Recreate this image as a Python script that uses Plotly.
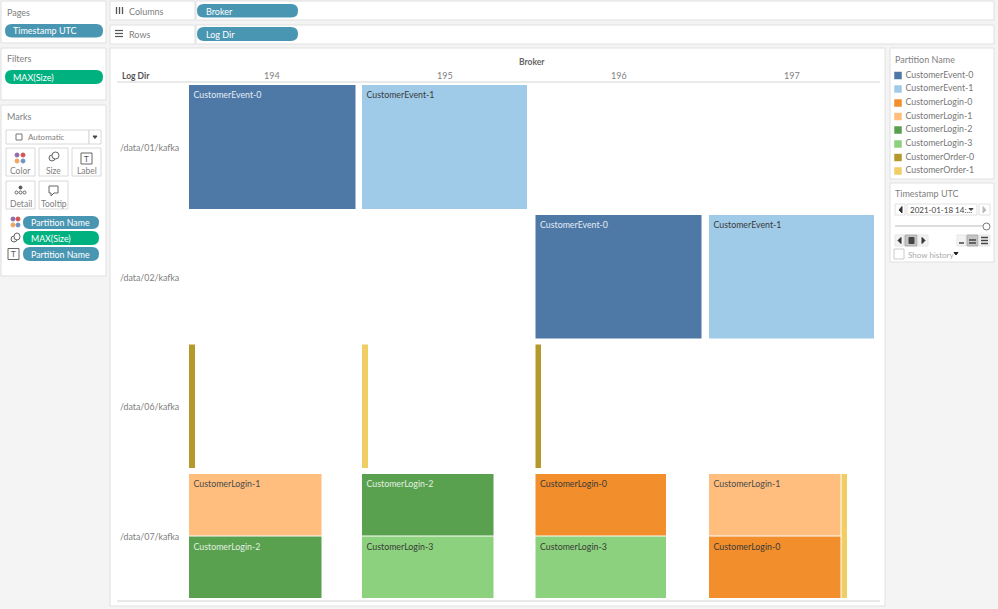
import pandas as pd
import plotly.graph_objects as go

# 分区矩形（坐标单位与截图像素一致）
df = pd.DataFrame(
    [
        ['194', '/data/01/kafka', 'CustomerEvent-0', 189, 355.5, 85, 209],
        ['195', '/data/01/kafka', 'CustomerEvent-1', 362, 527, 85, 209],
        ['196', '/data/02/kafka', 'CustomerEvent-0', 535.5, 701.5, 215, 338.5],
        ['197', '/data/02/kafka', 'CustomerEvent-1', 709, 874, 215, 338.5],
        ['194', '/data/06/kafka', 'CustomerOrder-0', 189, 195, 344.5, 468],
        ['195', '/data/06/kafka', 'CustomerOrder-1', 362, 368, 344.5, 468],
        ['196', '/data/06/kafka', 'CustomerOrder-0', 535.5, 541, 344.5, 468],
        ['194', '/data/07/kafka', 'CustomerLogin-1', 189, 321.5, 474, 535.5],
        ['194', '/data/07/kafka', 'CustomerLogin-2', 189, 321.5, 536.5, 598],
        ['195', '/data/07/kafka', 'CustomerLogin-2', 362, 493.5, 474, 535.5],
        ['195', '/data/07/kafka', 'CustomerLogin-3', 362, 493.5, 536.5, 598],
        ['196', '/data/07/kafka', 'CustomerLogin-0', 535.5, 666, 474, 535.5],
        ['196', '/data/07/kafka', 'CustomerLogin-3', 535.5, 666, 536.5, 598],
        ['197', '/data/07/kafka', 'CustomerLogin-1', 709, 840.5, 474, 535.5],
        ['197', '/data/07/kafka', 'CustomerLogin-0', 709, 840.5, 536.5, 598],
        ['197', '/data/07/kafka', 'CustomerOrder-1', 841.5, 847, 474, 598],
    ],
    columns=['broker', 'log_dir', 'partition', 'x0', 'x1', 'y0', 'y1'],
)

# 颜色和标签颜色
colors = {
    'CustomerEvent-0': '#4e79a7', 'CustomerEvent-1': '#a0cbe8',
    'CustomerLogin-0': '#f28e2b', 'CustomerLogin-1': '#ffbe7d',
    'CustomerLogin-2': '#59a14f', 'CustomerLogin-3': '#8cd17d',
    'CustomerOrder-0': '#b6992d', 'CustomerOrder-1': '#f1ce63',
}
label_colors = {
    'CustomerEvent-0': '#e4ebf3', 'CustomerEvent-1': '#3a3a3a',
    'CustomerLogin-0': '#3a3a3a', 'CustomerLogin-1': '#4a4a4a',
    'CustomerLogin-2': '#e4f0e2', 'CustomerLogin-3': '#3a3a3a',
}
font_name = 'Lato'
gray = '#808080'
dark = '#444444'

# 按分区分组画矩形
fig = go.Figure()
for name, group in df.groupby('partition'):
    fig.add_trace(go.Bar(
        x=(group['x0'] + group['x1']) / 2,
        y=group['y1'] - group['y0'],
        base=group['y0'],
        width=group['x1'] - group['x0'],
        marker=dict(color=colors[name], line=dict(width=0)),
        name=name,
        showlegend=False,
    ))

# 矩形上的标签
labeled = df[df['partition'].isin(label_colors)]
fig.add_trace(go.Scatter(
    x=labeled['x0'] + 4.5,
    y=labeled['y0'] + 11,
    mode='text',
    text=labeled['partition'],
    textposition='middle right',
    textfont=dict(family=font_name, size=8.8, color=[label_colors[p] for p in labeled['partition']]),
    showlegend=False,
))

# 图例色块和文字
legend_names = list(colors.keys())
legend_y = [75.5, 89, 103, 116.5, 130, 144, 157.5, 171]
fig.add_trace(go.Scatter(
    x=[898] * 8,
    y=legend_y,
    mode='markers',
    marker=dict(symbol='square', size=7.5, color=[colors[n] for n in legend_names]),
    showlegend=False,
))
fig.add_trace(go.Scatter(
    x=[905.5] * 8,
    y=legend_y,
    mode='text',
    text=legend_names,
    textposition='middle right',
    textfont=dict(family=font_name, size=8.8, color='#777777'),
    showlegend=False,
))

# 面板和按钮：x0, x1, y0, y1, 填充, 边框
boxes = [
    (1, 106, 1, 43, 'white', '#e0e0e0'),
    (1, 106, 48, 100, 'white', '#e0e0e0'),
    (1, 106, 105, 276, 'white', '#e0e0e0'),
    (110, 195, 1, 20, 'white', '#e0e0e0'),
    (196, 994, 1, 20, 'white', '#e0e0e0'),
    (110, 195, 25, 44, 'white', '#e0e0e0'),
    (196, 994, 25, 44, 'white', '#e0e0e0'),
    (110, 885, 48, 606, 'white', '#e0e0e0'),
    (890, 994, 48, 179, 'white', '#e0e0e0'),
    (890, 994, 183, 262, 'white', '#e0e0e0'),
    (6, 89, 130, 144, 'white', '#d8d8d8'),
    (89, 101, 130, 144, 'white', '#d8d8d8'),
    (6, 35, 148, 176, 'white', '#d8d8d8'),
    (39, 68, 148, 176, 'white', '#d8d8d8'),
    (72, 101, 148, 176, 'white', '#d8d8d8'),
    (6, 35, 181, 209, 'white', '#d8d8d8'),
    (39, 68, 181, 209, 'white', '#d8d8d8'),
    (16, 22, 134, 140, 'white', '#777777'),
    (895, 905, 204, 215, 'white', '#e0e0e0'),
    (907, 977, 204, 215, 'white', '#e0e0e0'),
    (979, 990, 204, 215, 'white', '#e0e0e0'),
    (895, 904, 235, 246, '#f2f2f2', '#e6e6e6'),
    (905, 917, 235, 246, '#c4c4c4', '#aaaaaa'),
    (918, 928, 235, 246, '#f2f2f2', '#e6e6e6'),
    (957, 966, 235, 246, '#f2f2f2', '#e6e6e6'),
    (967, 978, 235, 246, '#c4c4c4', '#aaaaaa'),
    (979, 990, 235, 246, '#f2f2f2', '#e6e6e6'),
    (894, 904, 249, 259, 'white', '#cccccc'),
    (81, 92, 153, 164, 'white', '#666666'),
]
shapes = []
for x0, x1, y0, y1, fill, edge in boxes:
    shapes.append(dict(type='rect', x0=x0, x1=x1, y0=y0, y1=y1, fillcolor=fill,
                       line=dict(color=edge, width=1), layer='below'))

# 胶囊
pills = [
    (5, 103, 24, 37.5, '#4996b2'),
    (5, 103, 70, 84, '#00b180'),
    (23, 99, 216, 229, '#4996b2'),
    (23, 99, 231, 245, '#00b180'),
    (23, 99, 247, 261, '#4996b2'),
    (197, 298, 4, 17.5, '#4996b2'),
    (197, 298, 27, 41, '#4996b2'),
]
for x0, x1, y0, y1, fill in pills:
    r = (y1 - y0) / 2
    path = (f'M {x0 + r} {y0} L {x1 - r} {y0} Q {x1} {y0} {x1} {y0 + r} Q {x1} {y1} {x1 - r} {y1} '
            f'L {x0 + r} {y1} Q {x0} {y1} {x0} {y0 + r} Q {x0} {y0} {x0 + r} {y0} Z')
    shapes.append(dict(type='path', path=path, fillcolor=fill, line=dict(width=0), layer='below'))

# 线条
lines = [
    (117, 880, 82, 82, '#d4d4d4', 1),
    (117, 880, 601, 601, '#d4d4d4', 1),
    (895, 983, 226, 226, '#dddddd', 2),
    (116.5, 116.5, 7, 14, '#555555', 1.3),
    (119.5, 119.5, 7, 14, '#555555', 1.3),
    (122.5, 122.5, 7, 14, '#555555', 1.3),
    (115, 123, 30.5, 30.5, '#555555', 1.2),
    (115, 123, 33.5, 33.5, '#555555', 1.2),
    (115, 123, 36.5, 36.5, '#555555', 1.2),
    (959, 964, 243, 243, '#444444', 1.5),
    (969, 976, 240, 240, '#444444', 1.5),
    (969, 976, 243, 243, '#444444', 1.5),
    (981, 988, 237.5, 237.5, '#444444', 1.5),
    (981, 988, 240.5, 240.5, '#444444', 1.5),
    (981, 988, 243.5, 243.5, '#444444', 1.5),
]
for x0, x1, y0, y1, color, width in lines:
    shapes.append(dict(type='line', x0=x0, x1=x1, y0=y0, y1=y1, line=dict(color=color, width=width), layer='below'))

# 小图标里的圆和三角
circles = [
    (15, 153, 19, 157, '#8f6ca8', None), (21, 153, 25, 157, '#d6544f', None),
    (15, 159, 19, 163, '#f2a45c', None), (21, 159, 25, 163, '#6f93c4', None),
    (49, 155, 55, 161, '#f2f2f2', '#666666'), (52, 152, 59, 159, 'white', '#666666'),
    (19, 186, 22, 189, '#555555', None),
    (15, 191, 18, 194, 'white', '#666666'), (19, 191, 22, 194, 'white', '#666666'), (23, 191, 26, 194, 'white', '#666666'),
    (11, 217, 15, 221, '#8f6ca8', None), (16, 217, 20, 221, '#d6544f', None),
    (11, 223, 15, 227, '#f2a45c', None), (16, 223, 20, 227, '#6f93c4', None),
    (11, 236, 17, 242, '#f2f2f2', '#666666'), (14, 233, 20, 240, 'white', '#666666'),
    (983, 223, 990, 230, 'white', '#777777'),
]
for x0, y0, x1, y1, fill, edge in circles:
    shapes.append(dict(type='circle', x0=x0, x1=x1, y0=y0, y1=y1, fillcolor=fill,
                       line=dict(color=edge or fill, width=1), layer='below'))
paths = [
    ('M 49 186 L 58 186 L 58 193 L 54 193 L 51 196 L 51 193 L 49 193 Z', 'white', '#666666'),
    ('M 93 136 L 97 136 L 95 138.5 Z', '#444444', '#444444'),
    ('M 899 210 L 902 206.5 L 902 213 Z', '#333333', '#333333'),
    ('M 986 210 L 983 206.5 L 983 213 Z', '#bbbbbb', '#bbbbbb'),
    ('M 969 208.5 L 973 208.5 L 971 210.5 Z', '#444444', '#444444'),
    ('M 898 240.5 L 901 237.5 L 901 243.5 Z', '#333333', '#333333'),
    ('M 909 237.5 L 914 237.5 L 914 243.5 L 909 243.5 Z', '#444444', '#444444'),
    ('M 925 240.5 L 922 237.5 L 922 243.5 Z', '#333333', '#333333'),
    ('M 954 252.5 L 958 252.5 L 956 255 Z', '#222222', '#222222'),
]
for path, fill, edge in paths:
    shapes.append(dict(type='path', path=path, fillcolor=fill, line=dict(color=edge, width=1), layer='below'))

# 文字：x, y, 内容, 字号, 颜色, 对齐
texts = [
    (6, 12, 'Pages', 9, gray, 'left'),
    (6, 58, 'Filters', 9, gray, 'left'),
    (6, 116, 'Marks', 9, gray, 'left'),
    (12, 30.5, 'Timestamp UTC', 9, 'white', 'left'),
    (12, 77, 'MAX(Size)', 9, 'white', 'left'),
    (30, 222.5, 'Partition Name', 8.8, 'white', 'left'),
    (30, 238, 'MAX(Size)', 8.8, 'white', 'left'),
    (30, 254, 'Partition Name', 8.8, 'white', 'left'),
    (27, 137, 'Automatic', 8, gray, 'left'),
    (20.5, 170.5, 'Color', 8.5, gray, 'center'),
    (53.5, 170.5, 'Size', 8.5, gray, 'center'),
    (86.5, 170.5, 'Label', 8.5, gray, 'center'),
    (20.5, 203.5, 'Detail', 8.5, gray, 'center'),
    (53.5, 203.5, 'Tooltip', 8.5, gray, 'center'),
    (128, 11, 'Columns', 9, gray, 'left'),
    (128, 34, 'Rows', 9, gray, 'left'),
    (205, 11, 'Broker', 9, 'white', 'left'),
    (205, 34, 'Log Dir', 9, 'white', 'left'),
    (532, 62, '<b>Broker</b>', 8.5, '#666666', 'center'),
    (121, 75.5, '<b>Log Dir</b>', 8.5, '#555555', 'left'),
    (272, 75.5, '194', 9, gray, 'center'),
    (445, 75.5, '195', 9, gray, 'center'),
    (619, 75.5, '196', 9, gray, 'center'),
    (792, 75.5, '197', 9, gray, 'center'),
    (180, 147, '/data/01/kafka', 8.8, gray, 'right'),
    (180, 277, '/data/02/kafka', 8.8, gray, 'right'),
    (180, 406.5, '/data/06/kafka', 8.8, gray, 'right'),
    (180, 536, '/data/07/kafka', 8.8, gray, 'right'),
    (894, 59, 'Partition Name', 9, gray, 'left'),
    (894, 193.5, 'Timestamp UTC', 9, gray, 'left'),
    (909, 210, '2021-01-18 14:...', 8, dark, 'left'),
    (907, 254.5, 'Show history', 8, '#aaaaaa', 'left'),
]
annotations = []
for x, y, text, size, color, anchor in texts:
    annotations.append(dict(x=x, y=y, text=text, showarrow=False, xanchor=anchor, yanchor='middle',
                            borderpad=0, font=dict(family=font_name, size=size, color=color)))
# 标签按钮里的 T
annotations.append(dict(x=86.5, y=158.5, text='T', showarrow=False, font=dict(family=font_name, size=8, color='#555555')))
annotations.append(dict(x=13.5, y=254, text='T', showarrow=False, font=dict(family=font_name, size=8, color='#555555')))

shapes.append(dict(type='rect', x0=8, x1=19, y0=248.5, y1=259.5, fillcolor='white',
                   line=dict(color='#666666', width=1), layer='below'))

fig.update_layout(
    width=998,
    height=609,
    margin=dict(l=0, r=0, t=0, b=0),
    barmode='overlay',
    paper_bgcolor='#f4f4f4',
    plot_bgcolor='#f4f4f4',
    xaxis=dict(range=[0, 998], visible=False),
    yaxis=dict(range=[609, 0], visible=False),
    shapes=shapes,
    annotations=annotations,
    showlegend=False,
)

# 保存为 HTML 文件（去掉页面默认边距和工具栏）
fig.write_html("out.html", config={'displayModeBar': False}, post_script="document.body.style.margin = '0';")
